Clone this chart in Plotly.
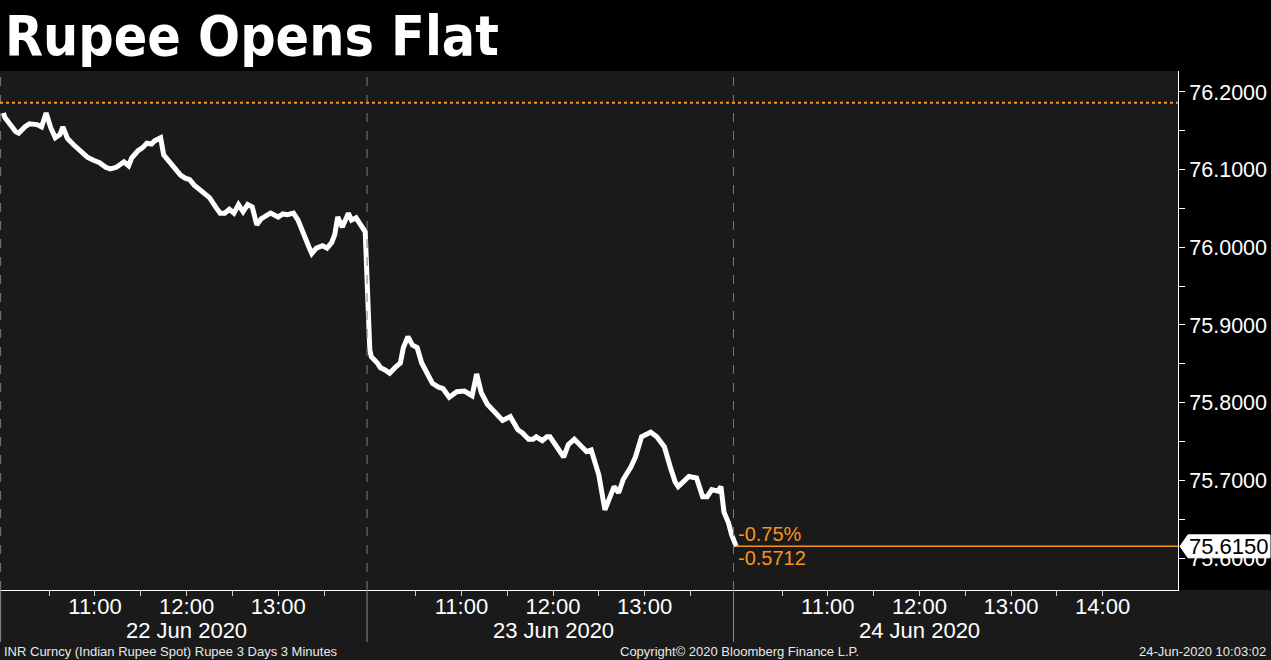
import plotly.graph_objects as go

# ---------------- data ----------------
DAY_LABELS = ["22 Jun 2020", "23 Jun 2020", "24 Jun 2020"]

DAY1_TIMES = ["10:00","10:01","10:08","10:10","10:14","10:17","10:22","10:25","10:28","10:31",
              "10:34","10:37","10:39","10:42","10:46","10:50","10:55","10:59","11:03","11:07",
              "11:10","11:14","11:19","11:22","11:24","11:28","11:31","11:34","11:37","11:39",
              "11:43","11:45","11:49","11:52","11:56","11:59","12:02","12:05","12:10","12:15",
              "12:19","12:22","12:25","12:28","12:31","12:34","12:37","12:40","12:43","12:46",
              "12:49","12:55","13:00","13:03","13:06","13:10","13:13","13:16","13:20","13:22",
              "13:25","13:29","13:32","13:35","13:37","13:39","13:42","13:46","13:48","13:51",
              "13:55","13:57"]
DAY1_PRICES = [76.173,76.167,76.149,76.147,76.155,76.159,76.158,76.155,76.173,76.154,
               76.141,76.145,76.155,76.140,76.132,76.125,76.116,76.112,76.109,76.103,
               76.101,76.103,76.110,76.105,76.115,76.124,76.128,76.134,76.133,76.137,
               76.141,76.119,76.110,76.102,76.093,76.089,76.087,76.080,76.071,76.064,
               76.052,76.044,76.044,76.049,76.044,76.055,76.046,76.055,76.052,76.029,
               76.037,76.044,76.039,76.043,76.042,76.044,76.035,76.019,76.001,75.992,
               75.999,76.002,75.999,76.006,76.016,76.039,76.026,76.044,76.035,76.038,
               76.026,76.020]

DAY2_TIMES = ["10:00","10:01","10:05","10:07","10:10","10:13","10:17","10:20","10:22","10:25",
              "10:28","10:31","10:34","10:37","10:41","10:45","10:48","10:52","10:57","11:02",
              "11:07","11:10","11:13","11:17","11:22","11:27","11:32","11:37","11:40","11:44",
              "11:47","11:49","11:53","11:56","11:58","12:01","12:05","12:07","12:10","12:14",
              "12:19","12:22","12:25","12:28","12:30","12:34","12:37","12:40","12:43","12:46",
              "12:51","12:54","12:58","13:04","13:08","13:13","13:17","13:20","13:22","13:29",
              "13:34","13:38","13:41","13:44","13:48","13:50","13:52","13:55","13:57"]
DAY2_PRICES = [75.868,75.859,75.851,75.845,75.842,75.838,75.846,75.851,75.871,75.885,
               75.874,75.871,75.851,75.840,75.825,75.820,75.818,75.807,75.814,75.815,
               75.809,75.837,75.813,75.798,75.787,75.777,75.782,75.765,75.761,75.753,
               75.753,75.756,75.751,75.756,75.756,75.748,75.735,75.730,75.746,75.753,
               75.743,75.737,75.739,75.716,75.707,75.662,75.677,75.692,75.684,75.701,
               75.717,75.730,75.756,75.762,75.756,75.743,75.716,75.698,75.692,75.705,
               75.703,75.679,75.679,75.688,75.686,75.692,75.659,75.645,75.630]

DAY3_TIMES = ["10:00"]
DAY3_PRICES = [75.615]

PREV_CLOSE = 76.1862
LAST_PRICE = 75.6150
NET_CHANGE = -0.5712
PCT_CHANGE = -0.75

Y_TICKS = [75.6, 75.7, 75.8, 75.9, 76.0, 76.1, 76.2]
HOUR_LABELS = [["11:00", "12:00", "13:00"],
               ["11:00", "12:00", "13:00"],
               ["11:00", "12:00", "13:00", "14:00"]]

TITLE = "Rupee Opens Flat"
FOOT_LEFT = "INR Curncy (Indian Rupee Spot) Rupee 3 Days 3 Minutes"
FOOT_MID = "Copyright\u00a9 2020 Bloomberg Finance L.P."
FOOT_RIGHT = "24-Jun-2020 10:03:02"

# ---------------- helpers ----------------
SESSION_OPEN = 10.0   # each day's session starts at 10:00
SESSION_LEN = 4.0     # hours shown per day


def to_x(day, t):
    h, m = t.split(":")
    return day * SESSION_LEN + int(h) + int(m) / 60.0 - SESSION_OPEN


xs, ys = [], []
for d, (times, prices) in enumerate([(DAY1_TIMES, DAY1_PRICES),
                                     (DAY2_TIMES, DAY2_PRICES),
                                     (DAY3_TIMES, DAY3_PRICES)]):
    for t, p in zip(times, prices):
        xs.append(to_x(d, t))
        ys.append(p)

tickvals, ticktext = [], []
for d, labels in enumerate(HOUR_LABELS):
    for lab in labels:
        tickvals.append(to_x(d, lab))
        ticktext.append(lab)
minor_vals = [d * SESSION_LEN + k * 0.5 for d in range(3) for k in range(1, 9)
              if not (d < 2 and k == 8)]

# ---------------- layout constants ----------------
W, H = 1271, 660
ML, MR, MT, MB = 0, 93, 71, 70
PW, PH = W - ML - MR, H - MT - MB
X_RANGE = [-0.037, 12.823]
Y_RANGE = [75.5588, 76.227]
ORANGE = "#f7941d"
BG = "#1a1a1a"
AXFONT = "Liberation Sans, Arial, sans-serif"


def px_x(p):   # pixel x -> paper
    return (p - ML) / PW


def px_y(p):   # pixel y -> paper
    return (H - MB - p) / PH


fig = go.Figure()
fig.add_trace(go.Scatter(x=xs, y=ys, mode="lines",
                         line=dict(color="white", width=5),
                         hoverinfo="skip", showlegend=False))

shapes = []
# bottom label band
shapes.append(dict(type="rect", xref="paper", yref="paper",
                   x0=px_x(0), x1=px_x(W), y0=px_y(H), y1=px_y(H - MB),
                   fillcolor=BG, line=dict(width=0), layer="below"))
# day separators
for d in range(3):
    xv = d * SESSION_LEN - 0.03
    shapes.append(dict(type="line", xref="x", yref="paper", x0=xv, x1=xv, y0=0, y1=1,
                       line=dict(color="#7a7a7a", width=1, dash="dash")))
    shapes.append(dict(type="line", xref="x", yref="paper", x0=xv, x1=xv,
                       y0=px_y(642), y1=0,
                       line=dict(color="#8a8a8a", width=1)))
# previous close dotted line
shapes.append(dict(type="line", xref="paper", yref="y", x0=0, x1=1,
                   y0=PREV_CLOSE, y1=PREV_CLOSE,
                   line=dict(color=ORANGE, width=2, dash="dot")))
# last price line
shapes.append(dict(type="line", xref="x", yref="y", x0=xs[-1], x1=X_RANGE[1],
                   y0=LAST_PRICE, y1=LAST_PRICE,
                   line=dict(color=ORANGE, width=1.5)))
# last price tag
hh = 11.5 / PH * (Y_RANGE[1] - Y_RANGE[0])
xt, xl, xr = px_x(1180), px_x(1188), px_x(1270)
path = (f"M {xt},{LAST_PRICE} L {xl},{LAST_PRICE + hh} L {xr},{LAST_PRICE + hh} "
        f"L {xr},{LAST_PRICE - hh} L {xl},{LAST_PRICE - hh} Z")
shapes.append(dict(type="path", xref="paper", yref="y", path=path,
                   fillcolor="white", line=dict(color="white", width=1), layer="above"))

annotations = []
annotations.append(dict(text=f"<b>{TITLE}</b>", xref="paper", yref="paper",
                        x=px_x(3), y=px_y(36), xanchor="left", yanchor="middle",
                        showarrow=False,
                        font=dict(family="DejaVu Sans Condensed, Liberation Sans, Arial",
                                  size=55, color="white")))
annotations.append(dict(text=f"{LAST_PRICE:.4f}", xref="paper", yref="y",
                        x=(xl + xr) / 2, y=LAST_PRICE, xanchor="center", yanchor="middle",
                        showarrow=False, font=dict(family=AXFONT, size=22, color="black")))
annotations.append(dict(text=f"{PCT_CHANGE:.2f}%", xref="x", yref="y",
                        x=xs[-1], y=LAST_PRICE, xanchor="left", yanchor="bottom",
                        showarrow=False, xshift=0, yshift=-1,
                        font=dict(family=AXFONT, size=20, color=ORANGE)))
annotations.append(dict(text=f"{NET_CHANGE:.4f}", xref="x", yref="y",
                        x=xs[-1], y=LAST_PRICE, xanchor="left", yanchor="top",
                        showarrow=False, xshift=0, yshift=1,
                        font=dict(family=AXFONT, size=20, color=ORANGE)))
for d, lab in enumerate(DAY_LABELS):
    annotations.append(dict(text=lab, xref="x", yref="paper",
                            x=d * SESSION_LEN + SESSION_LEN / 2, y=px_y(630),
                            xanchor="center", yanchor="middle", showarrow=False,
                            font=dict(family=AXFONT, size=22, color="white")))
foot_font = dict(family=AXFONT, size=13, color="#e8e8e8")
annotations.append(dict(text=FOOT_LEFT, xref="paper", yref="paper", x=px_x(2), y=px_y(651),
                        xanchor="left", yanchor="middle", showarrow=False, font=foot_font))
annotations.append(dict(text=FOOT_MID, xref="paper", yref="paper", x=px_x(739), y=px_y(651),
                        xanchor="center", yanchor="middle", showarrow=False, font=foot_font))
annotations.append(dict(text=FOOT_RIGHT, xref="paper", yref="paper", x=px_x(1268), y=px_y(651),
                        xanchor="right", yanchor="middle", showarrow=False, font=foot_font))

fig.update_layout(
    width=W, height=H,
    margin=dict(l=ML, r=MR, t=MT, b=MB, pad=0),
    paper_bgcolor="black", plot_bgcolor=BG,
    showlegend=False,
    shapes=shapes, annotations=annotations,
    xaxis=dict(range=X_RANGE, showgrid=False, zeroline=False,
               showline=True, linecolor="white", linewidth=1,
               tickmode="array", tickvals=tickvals, ticktext=ticktext,
               ticks="outside", ticklen=5, tickcolor="#cfcfcf", tickwidth=1,
               ticklabelstandoff=-8,
               minor=dict(tickmode="array", tickvals=minor_vals, ticks="outside",
                          ticklen=5, tickcolor="#cfcfcf", showgrid=False),
               tickfont=dict(family=AXFONT, size=22, color="white")),
    yaxis=dict(range=Y_RANGE, side="right", showgrid=False, zeroline=False,
               showline=True, linecolor="white", linewidth=1,
               tickmode="array", tickvals=Y_TICKS,
               ticktext=[f"{v:.4f}" for v in Y_TICKS],
               ticks="outside", ticklen=6, tickcolor="white",
               minor=dict(tickmode="array",
                          tickvals=[v + 0.05 for v in Y_TICKS[:-1]] + [Y_TICKS[-1] + 0.05],
                          ticks="outside", ticklen=6, tickcolor="white", showgrid=False),
               tickfont=dict(family=AXFONT, size=21.5, color="white")),
)

fig.write_html("out.html",
               config={"displayModeBar": False},
               post_script="document.body.style.margin='0';"
                           "document.body.style.overflow='hidden';")
